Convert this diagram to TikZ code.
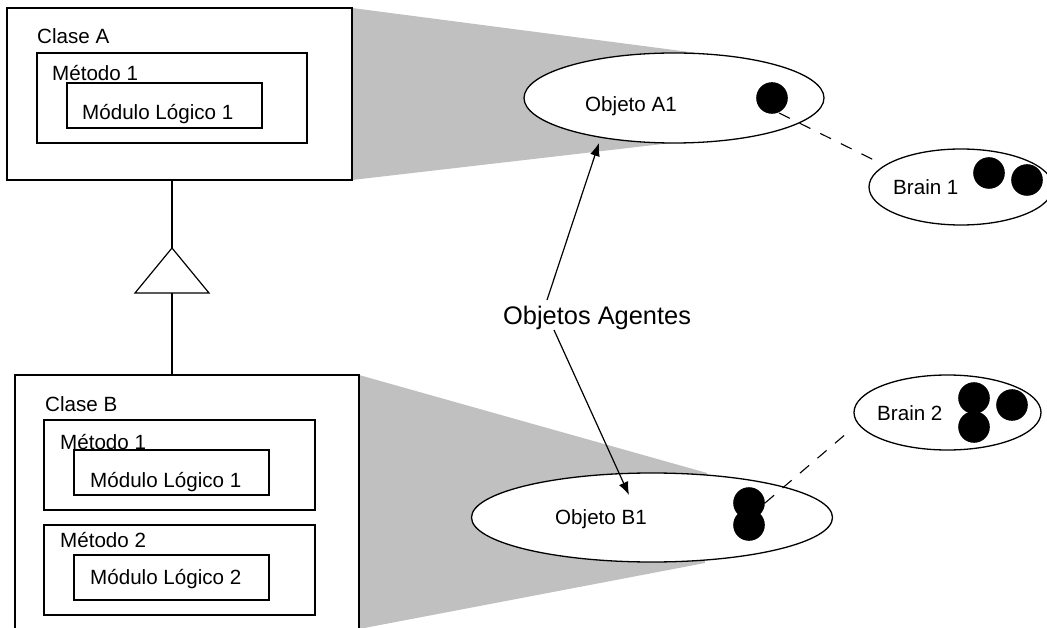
\documentclass[tikz,border=0pt]{standalone}
\usepackage{fontspec}
\setmainfont{Liberation Sans}
\usetikzlibrary{arrows.meta,shapes.geometric}
\definecolor{wedgegrey}{HTML}{C0C0C0}
\tikzset{
  boxed/.style={draw=black,fill=white,line width=1.3pt},
  oval/.style={ellipse,draw=black,fill=white,line width=1.3pt,inner sep=0pt},
  lbl/.style={anchor=base west,inner sep=0pt,font=\fontsize{20.6}{24}\selectfont},
  dot/.style={fill=black},
  conn/.style={black,line width=1.2pt},
  dashconn/.style={black,line width=1.1pt,dash pattern=on 12pt off 11pt},
  arrowline/.style={black,line width=1.2pt,-{Latex[length=13pt,width=10pt]}}
}
\begin{document}
\begin{tikzpicture}[x=1pt,y=-1pt]
\useasboundingbox (0,0) rectangle (1047,628);
\clip (0,0) rectangle (1047,628);
\fill[white] (0,0) rectangle (1047,628);
\fill[wedgegrey] (352,8) -- (697,53) -- (680,142) -- (352,180) -- cycle;
\fill[wedgegrey] (359,375) -- (707,473) -- (705,563) -- (359,629) -- cycle;
% inheritance
\coordinate (ca) at (172,180);
\coordinate (tt) at (172,248);
\coordinate (tb) at (172,293);
\coordinate (cb) at (172,375);
\draw[conn] (ca) -- (tt);
\draw[conn] (tb) -- (cb);
\draw[conn,line join=miter] (172,248) -- (209,293) -- (135,293) -- cycle;
% class A
\draw[boxed] (7,8) rectangle (352,180);
\node[lbl] (ta) at (37,44) {Clase A};
\draw[boxed] (37,53) rectangle (307,143);
\node[lbl] (ma) at (52,81) {Método 1};
\draw[boxed] (67,83) rectangle (262,128);
\node[lbl] (la) at (82,120) {Módulo Lógico 1};
% class B
\draw[boxed] (15,375) rectangle (359,640);
\node[lbl] (tb1) at (45,411) {Clase B};
\draw[boxed] (44,420) rectangle (315,510);
\node[lbl] (mb) at (60,449) {Método 1};
\draw[boxed] (74,450) rectangle (269,495);
\node[lbl] (lb) at (90,487) {Módulo Lógico 1};
\draw[boxed] (44,525) rectangle (315,615);
\node[lbl] (mc) at (60,547) {Método 2};
\draw[boxed] (74,555) rectangle (269,600);
\node[lbl] (lc) at (90,584) {Módulo Lógico 2};
% objects
\node[oval,minimum width=300pt,minimum height=90pt] (oa) at (674,98) {};
\node[oval,minimum width=361pt,minimum height=89pt] (ob) at (652,517.5) {};
\node[oval,minimum width=184pt,minimum height=76pt] (ba) at (961,187) {};
\node[oval,minimum width=187pt,minimum height=75pt] (bb) at (947.5,412.5) {};
% dots
\fill[dot] (772,98) circle (15.8);
\fill[dot] (989,173) circle (15.8);
\fill[dot] (1027,180) circle (15.8);
\fill[dot] (749,503) circle (15.8);
\fill[dot] (749,525) circle (15.8);
\fill[dot] (974,398) circle (15.8);
\fill[dot] (974,427) circle (15.8);
\fill[dot] (1012,405) circle (15.8);
\node[lbl] (o1) at (585,112) {Objeto A1};
\node[lbl] (o2) at (555,524) {Objeto B1};
\node[lbl] (b1) at (893,195) {Brain 1};
\node[lbl] (b2) at (877,420) {Brain 2};
% dashed
\coordinate (da1) at (779,113);
\coordinate (da2) at (876,161);
\coordinate (db1) at (765,503);
\coordinate (db2) at (847,433);
\draw[dashconn] (da1) -- (da2);
\draw[dashconn] (db1) -- (db2);
% label and arrows
\node[anchor=base west,inner sep=0pt,font=\fontsize{25.4}{30}\selectfont] (oag) at (503,325) {Objetos Agentes};
\coordinate (a1) at (547,300);
\coordinate (a2) at (599,143);
\coordinate (c1) at (554,330);
\coordinate (c2) at (629,495);
\draw[arrowline] (a1) -- (a2);
\draw[arrowline] (c1) -- (c2);
\end{tikzpicture}
\end{document}
